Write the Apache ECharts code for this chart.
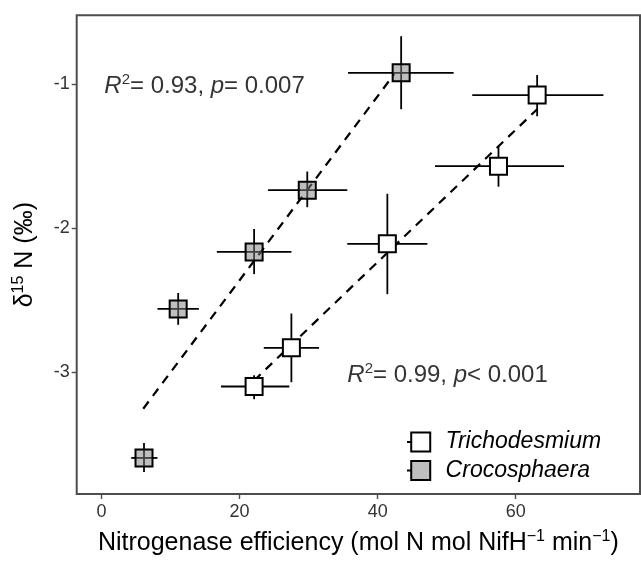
<!DOCTYPE html>
<html>
<head>
<meta charset="utf-8">
<script src="https://cdn.jsdelivr.net/npm/echarts@6/dist/echarts.min.js"></script>
<style>
  html, body { margin: 0; padding: 0; background: #fff; }
  #chart { width: 641px; height: 562px; }
</style>
</head>
<body>
<div id="chart"></div>
<script>
// values
const xTicks = [0, 20, 40, 60]
const yTicks = [-3, -2, -1]

const crocX = [43.4, 29.8, 22.1, 11.1, 6.15]
const crocY = [-0.924, -1.737, -2.165, -2.56, -3.593]
const crocXlo = [35.7, 24.1, 16.7, 8.1, 4.3]
const crocXhi = [51.0, 35.6, 27.5, 14.1, 8.1]
const crocYlo = [-1.176, -1.855, -2.319, -2.67, -3.69]
const crocYhi = [-0.67, -1.608, -2.006, -2.45, -3.49]

const trichX = [63.1, 57.5, 41.4, 27.5, 22.1]
const trichY = [-1.078, -1.571, -2.109, -2.83, -3.098]
const trichXlo = [53.7, 48.3, 35.6, 23.5, 17.3]
const trichXhi = [72.7, 67.0, 47.2, 31.5, 27.2]
const trichYlo = [-1.225, -1.713, -2.458, -3.068, -3.186]
const trichYhi = [-0.939, -1.432, -1.762, -2.592, -3.02]

const crocFit = [[6.04, -3.252], [42.4, -0.932]]
const trichFit = [[22.1, -3.056], [63.1, -1.176]]

const crocLabel = [0.4, -1.02]
const trichLabel = [35.6, -3.02]

const FONT = 'Liberation Sans'

function errRows(x, y, xlo, xhi, ylo, yhi) {
  return x.map((v, i) => [v, y[i], xlo[i], xhi[i], ylo[i], yhi[i]])
}

function renderErr(params, api) {
  const c = api.coord([api.value(0), api.value(1)])
  const l = api.coord([api.value(2), api.value(1)])
  const r = api.coord([api.value(3), api.value(1)])
  const b = api.coord([api.value(0), api.value(4)])
  const t = api.coord([api.value(0), api.value(5)])
  const style = { stroke: '#000', lineWidth: 1.8 }
  return {
    type: 'group',
    children: [
      { type: 'line', shape: { x1: l[0], y1: c[1], x2: r[0], y2: c[1] }, style: style },
      { type: 'line', shape: { x1: c[0], y1: b[1], x2: c[0], y2: t[1] }, style: style }
    ]
  }
}

const richText = {
  i: { fontStyle: 'italic', fontSize: 24, fontFamily: FONT, color: '#000', lineHeight: 28 },
  n: { fontSize: 24, fontFamily: FONT, color: '#000', lineHeight: 28 },
  sup: { fontSize: 15, fontFamily: FONT, color: '#000', lineHeight: 16, verticalAlign: 'top' }
}
const supStyle = { fontSize: 16, fontFamily: FONT, color: '#000', lineHeight: 16, verticalAlign: 'top' }

// legend key: square with the error bar stub on its left
const keyIcon = 'path://M0,9L4,9M4,0L22,0L22,18L4,18Z'

const chart = echarts.init(document.getElementById('chart'))

chart.setOption({
  animation: false,
  grid: {
    left: 76.7, right: 1, top: 15.3, bottom: 60,
    show: true, borderColor: '#4d4d4d', borderWidth: 2, backgroundColor: 'transparent'
  },
  legend: {
    orient: 'vertical',
    left: 401,
    top: 425,
    itemWidth: 24,
    itemHeight: 19,
    itemGap: 4.5,
    icon: keyIcon,
    textStyle: { fontFamily: FONT, fontSize: 23, fontStyle: 'italic', color: '#000', lineHeight: 24, padding: [0, 0, 0, 10] },
    data: ['Trichodesmium', 'Crocosphaera']
  },
  xAxis: {
    type: 'value',
    min: -3.6,
    max: 78,
    splitLine: { show: false },
    axisLine: { show: false, onZero: false },
    axisTick: { show: true, length: 5, lineStyle: { color: '#4d4d4d', width: 1.4 }, customValues: xTicks },
    axisLabel: { customValues: xTicks, fontFamily: FONT, fontSize: 18, color: '#333', margin: 9 },
    name: 'Nitrogenase efficiency (mol N mol NifH{sup|\u22121} min{sup|\u22121})',
    nameLocation: 'middle',
    nameGap: 35,
    nameTextStyle: {
      fontFamily: FONT, fontSize: 25, color: '#000', lineHeight: 28,
      rich: { sup: supStyle }
    }
  },
  yAxis: {
    type: 'value',
    min: -3.843,
    max: -0.525,
    splitLine: { show: false },
    axisLine: { show: false, onZero: false },
    axisTick: { show: true, length: 5, lineStyle: { color: '#4d4d4d', width: 1.4 }, customValues: yTicks },
    axisLabel: { customValues: yTicks, fontFamily: FONT, fontSize: 18, color: '#333', margin: 7 },
    name: '\u03b4{sup|15} N (\u2030)',
    nameLocation: 'middle',
    nameRotate: 90,
    nameGap: 38,
    nameTextStyle: {
      fontFamily: FONT, fontSize: 25, color: '#000', lineHeight: 28,
      rich: { sup: supStyle }
    }
  },
  series: [
    {
      name: 'crocFit', type: 'line', data: crocFit, symbol: 'none', silent: true,
      lineStyle: { color: '#000', width: 2.2, type: [9, 7] }, z: 1
    },
    {
      name: 'trichFit', type: 'line', data: trichFit, symbol: 'none', silent: true,
      lineStyle: { color: '#000', width: 2.2, type: [9, 7] }, z: 1
    },
    {
      name: 'crocErr', type: 'custom', renderItem: renderErr, z: 2,
      data: errRows(crocX, crocY, crocXlo, crocXhi, crocYlo, crocYhi)
    },
    {
      name: 'trichErr', type: 'custom', renderItem: renderErr, z: 2,
      data: errRows(trichX, trichY, trichXlo, trichXhi, trichYlo, trichYhi)
    },
    {
      name: 'Trichodesmium', type: 'scatter', symbol: 'rect', symbolSize: 17, z: 3,
      itemStyle: { color: '#fff', borderColor: '#000', borderWidth: 2, opacity: 1 },
      data: trichX.map((v, i) => [v, trichY[i]])
    },
    {
      name: 'Crocosphaera', type: 'scatter', symbol: 'rect', symbolSize: 17, z: 3,
      itemStyle: { color: 'rgba(128,128,128,0.5)', borderColor: '#000', borderWidth: 2, opacity: 1 },
      data: crocX.map((v, i) => [v, crocY[i]])
    },
    {
      name: 'labels', type: 'scatter', symbolSize: 0, silent: true, z: 4,
      data: [
        { value: crocLabel, label: { formatter: '{i|R}{sup|2}{n|= 0.93, }{i|p}{n|= 0.007}' } },
        { value: trichLabel, label: { formatter: '{i|R}{sup|2}{n|= 0.99, }{i|p}{n|< 0.001}' } }
      ],
      label: { show: true, position: 'right', distance: 0, rich: richText }
    }
  ]
})
</script>
</body>
</html>
